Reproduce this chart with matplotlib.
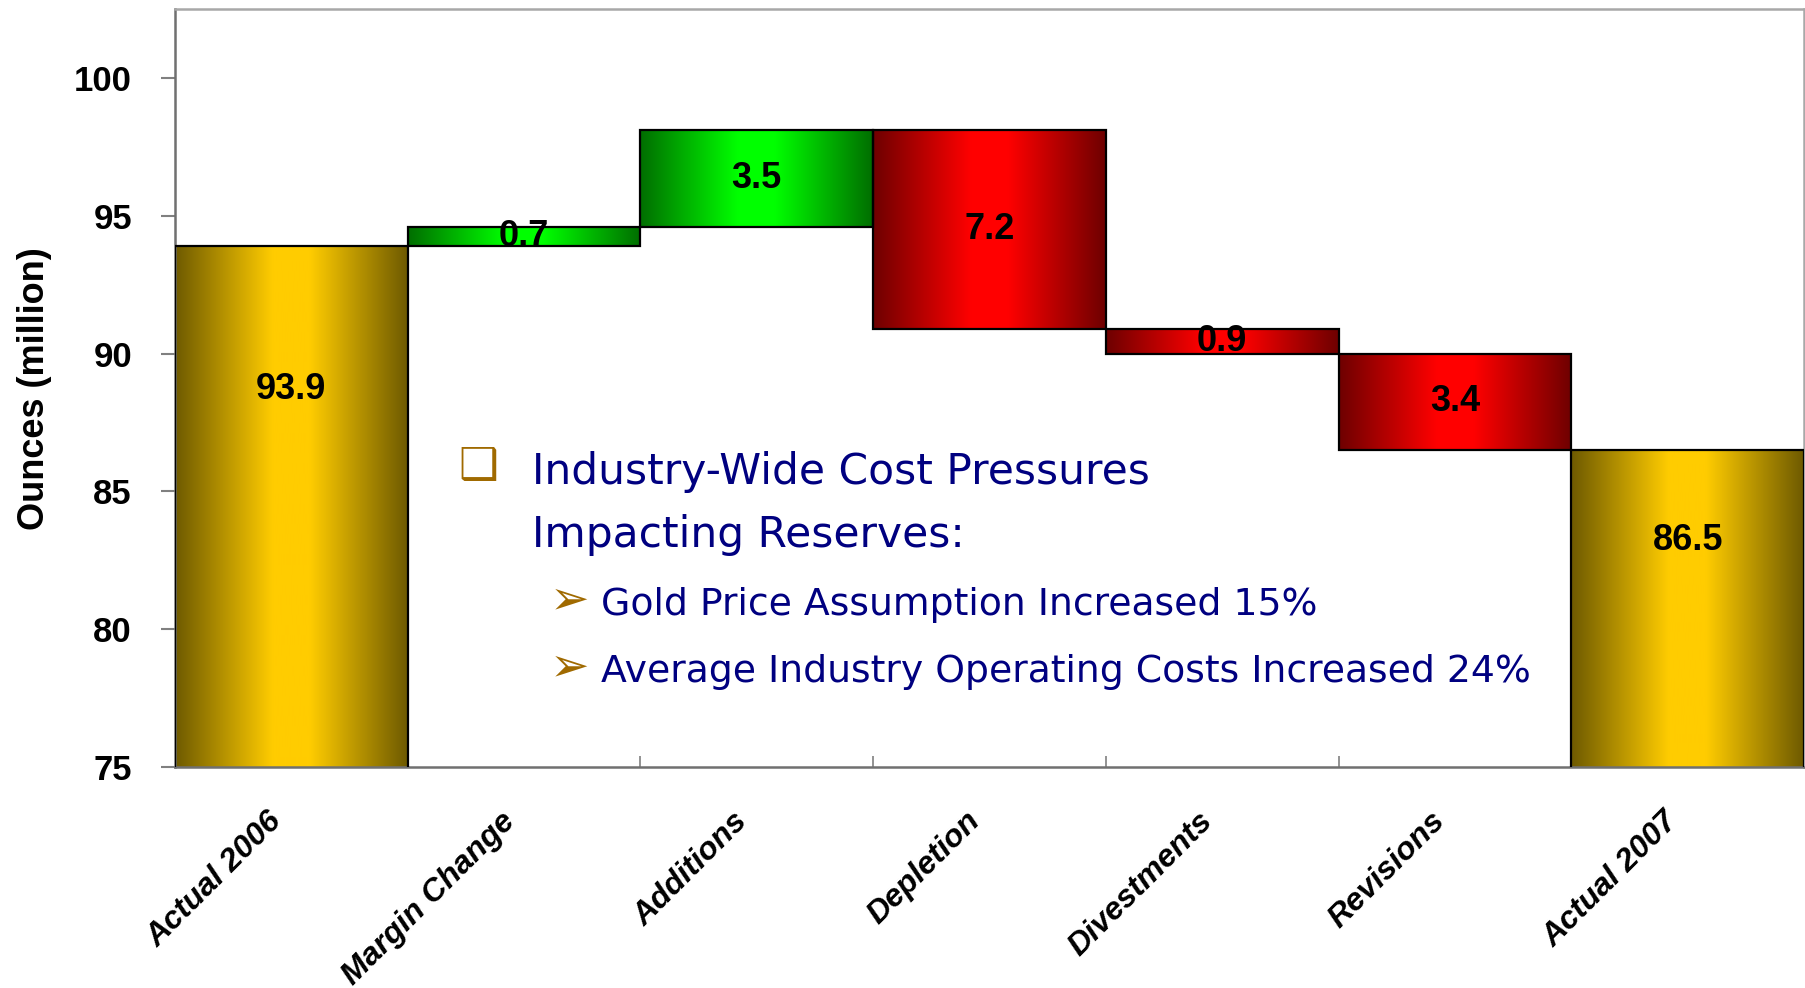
import numpy as np
import matplotlib
matplotlib.use('Agg')
import matplotlib.pyplot as plt
from matplotlib.colors import LinearSegmentedColormap
from matplotlib.transforms import ScaledTranslation

# ---------------- data ----------------
categories = ["Actual 2006", "Margin Change", "Additions", "Depletion",
              "Divestments", "Revisions", "Actual 2007"]
start_total = 93.9
changes = [0.7, 3.5, -7.2, -0.9, -3.4]
end_total = 86.5
value_labels = ["93.9", "0.7", "3.5", "7.2", "0.9", "3.4", "86.5"]
total_label_y = [88.7, 83.2]
yticks = [75, 80, 85, 90, 95, 100]
ylabel = "Ounces (million)"
bullet_title = ["Industry-Wide Cost Pressures", "Impacting Reserves:"]
bullet_items = ["Gold Price Assumption Increased 15%",
                "Average Industry Operating Costs Increased 24%"]

# ---------------- figure ----------------
W, H = 1806, 988
fig = plt.figure(figsize=(W / 100, H / 100), dpi=100)
ax = fig.add_axes([175 / W, 1 - 767 / H, (1804 - 175) / W, (767 - 9) / H])
YMIN, YMAX = 75, 102.5

def grad_cmap(dark, bright):
    return LinearSegmentedColormap.from_list(
        "g", [(0.0, dark), (0.42, bright), (0.58, bright), (1.0, dark)])

gold = grad_cmap("#6e5a00", "#ffcc00")
green = grad_cmap("#006e00", "#00ff00")
red = grad_cmap("#6e0000", "#ff0000")
grad = np.linspace(0, 1, 256).reshape(1, -1)

levels = [start_total]
for c in changes:
    levels.append(levels[-1] + c)
levels[-1] = end_total  # final step lands on reported total

bars = []  # (x, lo, hi, cmap)
bars.append((0, 0, start_total, gold))
for i, c in enumerate(changes):
    lo, hi = sorted([levels[i], levels[i + 1]])
    bars.append((i + 1, lo, hi, green if c > 0 else red))
bars.append((len(categories) - 1, 0, end_total, gold))

for x, lo, hi, cm in bars:
    ax.imshow(grad, extent=[x - 0.5, x + 0.5, lo, hi], aspect='auto',
              cmap=cm, zorder=2, interpolation='bilinear')
    ax.bar(x, hi - lo, bottom=lo, width=1.0, fill=False,
           edgecolor='black', linewidth=1.6, zorder=3)

# value labels
lab_y = [total_label_y[0]]
for x, lo, hi, cm in bars[1:-1]:
    lab_y.append((lo + hi) / 2)
lab_y.append(total_label_y[1])
for x, (txt, y) in enumerate(zip(value_labels, lab_y)):
    ax.text(x, y, txt, ha='center', va='center', fontsize=26,
            fontweight='bold', family='Liberation Sans', zorder=4)

ax.set_xlim(-0.5, len(categories) - 0.5)
ax.set_ylim(YMIN, YMAX)
ax.set_yticks(yticks)
ax.set_yticklabels([str(v) for v in yticks], fontsize=25, fontweight='bold',
                   family='Liberation Sans')
ax.tick_params(axis='y', length=10, width=1.5, color='#808080', pad=21)

ax.set_xticks(range(len(categories)))
ax.set_xticklabels(categories, rotation=45, ha='right', va='center',
                   rotation_mode='anchor', fontsize=23, fontweight='bold',
                   fontstyle='italic', family='Liberation Sans')
ax.tick_params(axis='x', length=0, pad=36)
off = ScaledTranslation(-14 / 100, 0, fig.dpi_scale_trans)
for lbl in ax.get_xticklabels():
    lbl.set_transform(lbl.get_transform() + off)
ax.set_xticks(np.arange(0.5, len(categories) - 1, 1.0), minor=True)
ax.tick_params(axis='x', which='minor', direction='in', length=8,
               width=1.2, color='#808080')

for s in ['left', 'bottom']:
    ax.spines[s].set_color('#707070')
    ax.spines[s].set_linewidth(1.8)
for s in ['top', 'right']:
    ax.spines[s].set_color('#a8a8a8')
    ax.spines[s].set_linewidth(1.8)

fig.text(35 / W, 1 - 389 / H, ylabel, rotation=90, ha='center', va='center',
         fontsize=26, fontweight='bold', family='Liberation Sans')

# text box
navy = '#000080'
brown = '#a06a00'
fig.text(478 / W, 1 - 466 / H, '\u2751', ha='center', va='center',
         fontsize=32, color=brown, family='DejaVu Sans')
fig.text(532 / W, 1 - 484 / H, bullet_title[0], ha='left', va='baseline',
         fontsize=30.5, color=navy, family='DejaVu Sans')
fig.text(532 / W, 1 - 547 / H, bullet_title[1], ha='left', va='baseline',
         fontsize=30.5, color=navy, family='DejaVu Sans')
for i, (item, base) in enumerate(zip(bullet_items, [615, 682])):
    fig.text(570 / W, 1 - (base - 14) / H, '\u27a2', ha='center', va='center',
             fontsize=34, color=brown, family='DejaVu Sans')
    fig.text(601 / W, 1 - base / H, item, ha='left', va='baseline',
             fontsize=27.2, color=navy, family='DejaVu Sans')

fig.savefig('out.png', dpi=100)
